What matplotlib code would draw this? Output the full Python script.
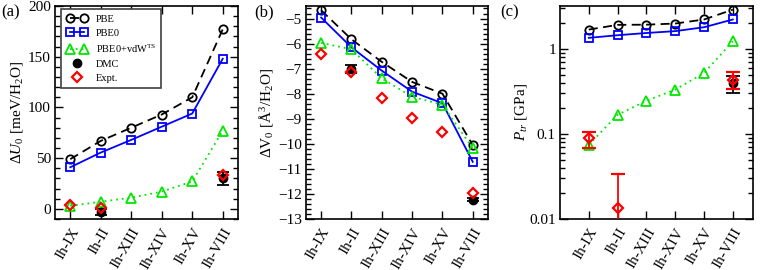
import matplotlib
matplotlib.use("Agg")
import matplotlib.pyplot as plt
import numpy as np
from matplotlib.lines import Line2D
from matplotlib.legend_handler import HandlerLine2D
from matplotlib.ticker import MultipleLocator, LogLocator, FixedLocator, FuncFormatter, NullFormatter

plt.rcParams['font.family'] = ['Liberation Serif', 'DejaVu Serif']
plt.rcParams['mathtext.fontset'] = 'custom'
plt.rcParams['mathtext.rm'] = 'Liberation Serif'
plt.rcParams['mathtext.it'] = 'Liberation Serif:italic'
plt.rcParams['mathtext.bf'] = 'Liberation Serif:bold'

phases = ['Ih-IX', 'Ih-II', 'Ih-XIII', 'Ih-XIV', 'Ih-XV', 'Ih-VIII']

# (a) energy differences, meV/H2O
du_pbe = [49, 67, 80, 93, 110, 177]
du_pbe0 = [41, 55.5, 68, 81, 94, 148]
du_vdw = [3, 7, 11, 17, 27, 77]
du_dmc_idx = [1, 5]
du_dmc = [-3, 30]
du_dmc_err = [3, 6.5]
du_exp_idx = [0, 1, 5]
du_exp = [3.6, 0.5, 33]

# (b) volume differences, A^3/H2O
dv_pbe = [-4.67, -5.83, -6.73, -7.53, -8.0, -10.05]
dv_pbe0 = [-4.96, -6.15, -7.08, -7.92, -8.38, -10.72]
dv_vdw = [-5.97, -6.23, -7.39, -8.12, -8.44, -10.18]
dv_dmc_idx = [1, 5]
dv_dmc = [-7.02, -12.23]
dv_dmc_err = [0.17, 0.05]
dv_exp = [-6.4, -7.12, -8.17, -8.97, -9.54, -11.97]

# (c) transition pressures, GPa
pt_pbe = [1.69, 1.92, 1.93, 1.99, 2.22, 2.9]
pt_pbe0 = [1.35, 1.45, 1.54, 1.62, 1.8, 2.22]
pt_vdw = [0.0745, 0.168, 0.246, 0.332, 0.521, 1.23]
pt_dmc_idx = [5]
pt_dmc = [0.40]
pt_dmc_lo = [0.305]
pt_dmc_hi = [0.485]
pt_exp_idx = [0, 1, 5]
pt_exp = [0.089, 0.0134, 0.435]
pt_exp_lo = [0.068, 0.005, 0.34]
pt_exp_hi = [0.106, 0.034, 0.53]

GREEN = '#00e800'
BLUE = '#0000ff'
RED = '#ff0000'
x = np.arange(len(phases))

fig = plt.figure(figsize=(7.63, 2.70), dpi=100)
ax_a = fig.add_axes([0.0721, 0.1889, 0.2398, 0.7889])
ax_b = fig.add_axes([0.4010, 0.1889, 0.2385, 0.7889])
ax_c = fig.add_axes([0.7339, 0.1889, 0.2530, 0.7889])

lw = 1.3
ms = 6


def draw_series(ax, pbe, pbe0, vdw):
    ax.plot(x, pbe, color='black', lw=lw, dashes=(5, 3), marker='o', ms=ms,
            mfc='none', mec='black', mew=lw, zorder=3)
    ax.plot(x, pbe0, color=BLUE, lw=lw, marker='s', ms=ms,
            mfc='none', mec=BLUE, mew=lw, zorder=3)
    ax.plot(x, vdw, color=GREEN, lw=lw, dashes=(1, 2.2), marker='^', ms=ms + 1,
            mfc='none', mec=GREEN, mew=lw, zorder=3)


def style_axes(ax):
    ax.set_xticks(x)
    ax.set_xticklabels(phases, rotation=60, ha='right', rotation_mode='anchor', fontsize=11)
    ax.tick_params(which='both', direction='in', top=True, right=True, width=1)
    ax.tick_params(which='major', length=6, labelsize=11, pad=3)
    ax.tick_params(which='minor', length=3.5)
    ax.tick_params(axis='x', which='major', pad=5)
    for s in ax.spines.values():
        s.set_linewidth(1.2)


# panel (a)
draw_series(ax_a, du_pbe, du_pbe0, du_vdw)
ax_a.errorbar(du_dmc_idx, du_dmc, yerr=du_dmc_err, fmt='o', color='black', ms=ms,
              capsize=4, elinewidth=lw, capthick=lw, zorder=4)
ax_a.plot(du_exp_idx, du_exp, 'D', ms=ms - 0.5, mfc='none', mec=RED, mew=lw + 0.3, zorder=5)
ax_a.set_xlim(-0.5, 5.5)
ax_a.set_ylim(-10, 200)
ax_a.yaxis.set_major_locator(MultipleLocator(50))
ax_a.yaxis.set_minor_locator(MultipleLocator(10))
ax_a.set_ylabel(r'$\Delta U_{\mathit{0}}$ [meV/H$_2$O]', fontsize=11, labelpad=2)
style_axes(ax_a)

handles = [
    Line2D([], [], color='black', lw=lw, dashes=(5, 3), marker='o', ms=ms, mfc='none', mew=lw),
    Line2D([], [], color=BLUE, lw=lw, marker='s', ms=ms, mfc='none', mew=lw),
    Line2D([], [], color=GREEN, lw=lw, dashes=(1, 2.2), marker='^', ms=ms + 1, mfc='none', mew=lw),
    Line2D([], [], ls='none', color='black', marker='o', ms=ms),
    Line2D([], [], ls='none', marker='D', ms=ms - 0.5, mfc='none', mec=RED, mew=lw + 0.3),
]
labels = ['PBE', 'PBE0', r'PBE0+vdW$^{\mathrm{TS}}$', 'DMC', 'Expt.']
leg = ax_a.legend(handles, labels, loc='upper left', bbox_to_anchor=(0.035, 0.985),
                  borderaxespad=0, fontsize=7.5, numpoints=2, handlelength=2.0,
                  handletextpad=0.8, labelspacing=0.45, borderpad=0.5,
                  fancybox=False, edgecolor='0.25', framealpha=1,
                  handler_map={handles[3]: HandlerLine2D(numpoints=1),
                               handles[4]: HandlerLine2D(numpoints=1)})
leg.get_frame().set_linewidth(1.2)

# panel (b)
draw_series(ax_b, dv_pbe, dv_pbe0, dv_vdw)
ax_b.errorbar(dv_dmc_idx, dv_dmc, yerr=dv_dmc_err, fmt='o', color='black', ms=ms,
              capsize=4, elinewidth=lw, capthick=lw, zorder=4)
ax_b.plot(x, dv_exp, 'D', ms=ms - 0.5, mfc='none', mec=RED, mew=lw + 0.3, zorder=5)
ax_b.set_xlim(-0.5, 5.5)
ax_b.set_ylim(-13, -4.5)
ax_b.yaxis.set_major_locator(MultipleLocator(1))
ax_b.yaxis.set_minor_locator(MultipleLocator(0.2))
ax_b.set_ylabel(r'$\Delta$V$_0$ [Å$^3$/H$_2$O]', fontsize=11, labelpad=2)
style_axes(ax_b)

# panel (c)
draw_series(ax_c, pt_pbe, pt_pbe0, pt_vdw)
ax_c.set_yscale('log')
pt_dmc_err = [np.subtract(pt_dmc, pt_dmc_lo), np.subtract(pt_dmc_hi, pt_dmc)]
ax_c.errorbar(pt_dmc_idx, pt_dmc, yerr=pt_dmc_err, fmt='o', color='black', ms=ms,
              capsize=5, elinewidth=lw, capthick=lw, zorder=4)
pt_exp_err = [np.subtract(pt_exp, pt_exp_lo), np.subtract(pt_exp_hi, pt_exp)]
ax_c.errorbar(pt_exp_idx, pt_exp, yerr=pt_exp_err, fmt='D', ms=ms - 0.5, mfc='none',
              mec=RED, mew=lw + 0.3, ecolor=RED, capsize=5, elinewidth=lw,
              capthick=lw, zorder=5)
ax_c.set_xlim(-1.0, 5.7)
ax_c.set_ylim(0.01, 3.2)
ax_c.yaxis.set_major_locator(FixedLocator([0.01, 0.1, 1]))
ax_c.yaxis.set_major_formatter(FuncFormatter(lambda v, p: '%g' % v))
ax_c.yaxis.set_minor_locator(LogLocator(base=10, subs=np.arange(2, 10), numticks=20))
ax_c.yaxis.set_minor_formatter(NullFormatter())
ax_c.set_ylabel(r'$P_{tr}$ [GPa]', fontsize=11, labelpad=0)
style_axes(ax_c)

for ax, tag, xpos in [(ax_a, '(a)', 0.002), (ax_b, '(b)', 0.333), (ax_c, '(c)', 0.655)]:
    fig.text(xpos, 0.985, tag, fontsize=12, ha='left', va='top')

fig.savefig('out.png', dpi=100)
